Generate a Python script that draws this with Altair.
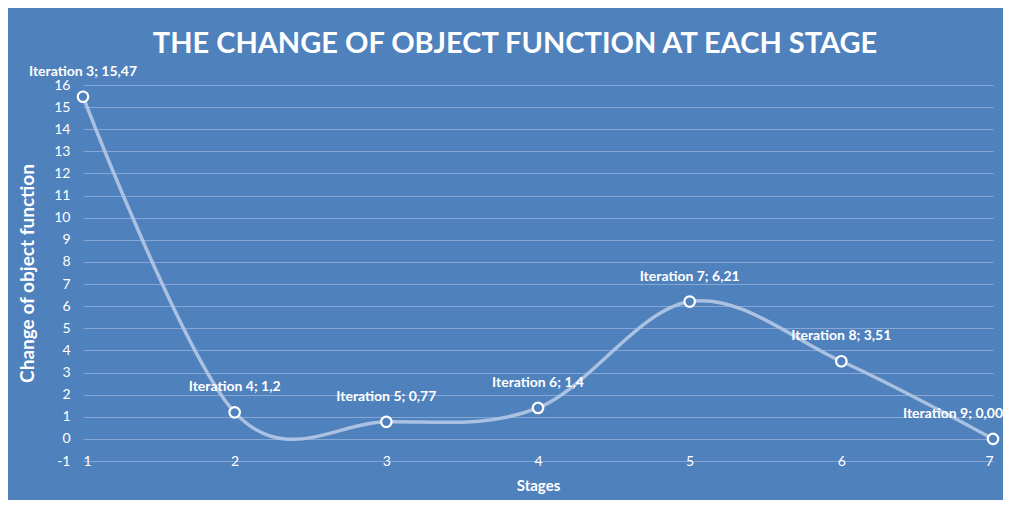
import altair as alt
import pandas as pd

stages = [1, 2, 3, 4, 5, 6, 7]
values = [15.47, 1.2, 0.77, 1.4, 6.21, 3.51, 0.0]
labels = ["Iteration 3; 15,47", "Iteration 4; 1,2", "Iteration 5; 0,77",
          "Iteration 6; 1,4", "Iteration 7; 6,21", "Iteration 8; 3,51",
          "Iteration 9; 0,00"]
y_ticks = list(range(-1, 17))

df = pd.DataFrame({"stage": stages, "value": values, "label": labels})

BG = "#4f81bd"
FONT = "Lato"

x = alt.X("stage:Q", scale=alt.Scale(domain=[1, 7], nice=False, zero=False),
          axis=alt.Axis(title="Stages", values=stages, format="d", grid=False,
                        domain=False, ticks=False, labelBaseline="middle",
                        labelPadding=0, labelColor="white", labelFontSize=14,
                        labelFont=FONT, titleFont=FONT, titleFontSize=15,
                        titleFontWeight="bold", titleColor="white", titlePadding=10))
y = alt.Y("value:Q", scale=alt.Scale(domain=[-1, 16], nice=False, zero=False),
          axis=alt.Axis(title="Change of object function", values=y_ticks, grid=True,
                        labelExpr="'' + datum.value",
                        gridColor="#86a7d6", gridWidth=1, domain=False, ticks=False,
                        labelPadding=13, labelColor="white", labelFontSize=14,
                        labelFont=FONT, titleFont=FONT, titleFontSize=19,
                        titleFontWeight="bold", titleColor="white", titlePadding=16))

base = alt.Chart(df)

line = base.mark_line(interpolate="cardinal", color="#b4c8e6", strokeWidth=3.5,
                      strokeOpacity=0.9).encode(x=x, y=y)
pts = base.mark_point(filled=False, shape="circle", size=110, stroke="white",
                      strokeWidth=2.2, fill=BG, fillOpacity=1, opacity=1).encode(x=x, y=y)
txt = base.transform_filter(alt.datum.stage < 7).mark_text(
    dy=-25, color="white", font=FONT, fontSize=14, fontWeight="bold",
    baseline="middle").encode(x=x, y=y, text="label:N")
txt_last = base.transform_filter(alt.datum.stage == 7).mark_text(
    dy=-25, dx=-40, color="white", font=FONT, fontSize=14, fontWeight="bold",
    baseline="middle").encode(x=x, y=y, text="label:N")

chart = alt.layer(line, pts, txt, txt_last).properties(
    width=910, height=376,
    title=alt.TitleParams("THE CHANGE OF OBJECT FUNCTION AT EACH STAGE",
                          font=FONT, fontSize=29, fontWeight="bold", color="white",
                          anchor="middle", offset=6, dx=-23),
    background=BG,
    padding={"left": 75, "top": 77, "right": 10, "bottom": 39},
    autosize=alt.AutoSizeParams(type="none"),
).configure_view(stroke=None)

chart.save("out.html", embed_options={"renderer": "svg", "actions": False})
